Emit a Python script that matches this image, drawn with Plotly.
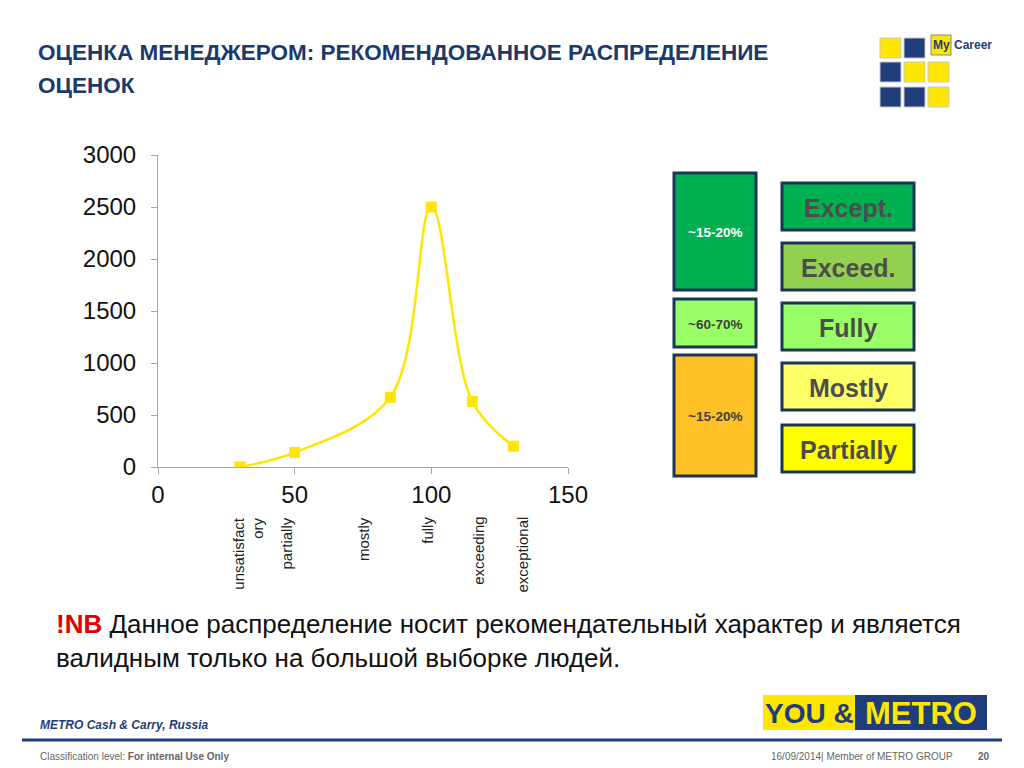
import plotly.graph_objects as go

# --- data -------------------------------------------------------------
scores = [30, 50, 85, 100, 115, 130]
counts = [0, 140, 670, 2500, 630, 200]

rating_labels = ['unsatisfact<br>ory', 'partially', 'mostly', 'fully', 'exceeding', 'exceptional']
rating_label_x = [33, 47, 75, 98.5, 117, 133]

share_labels = ['~15-20%', '~60-70%', '~15-20%']
share_colors = ['#00B050', '#99FF66', '#FFC125']
share_text_colors = ['white', '#404040', '#404040']

level_labels = ['Except.', 'Exceed.', 'Fully', 'Mostly', 'Partially']
level_colors = ['#00B050', '#92D050', '#99FF66', '#FFFF66', '#FFFF00']

W, H = 1024, 768
NAVY = '#1F3D7A'
YELLOW = '#FFE600'
FONT = 'Liberation Sans, Arial, sans-serif'


def px(x):
    return x / W


def py(y):
    return 1 - y / H


def note(x, y, text, size, color, xanchor='center', yanchor='middle', **kw):
    d = dict(x=px(x), y=py(y), xref='paper', yref='paper', text=text, showarrow=False,
             xanchor=xanchor, yanchor=yanchor,
             font=dict(family=kw.pop('family', FONT), size=size, color=color))
    d.update(kw)
    return d


fig = go.Figure()

fig.add_trace(go.Scatter(
    x=scores, y=counts,
    mode='lines+markers',
    line=dict(color=YELLOW, width=2.5, shape='spline', smoothing=1.0),
    marker=dict(symbol='square', size=11, color=YELLOW),
    showlegend=False,
    hoverinfo='x+y'
))

shapes = []
annotations = []

# rotated rating names under the x axis
for lab, x in zip(rating_labels, rating_label_x):
    annotations.append(dict(
        x=x, xref='x', y=py(515), yref='paper',
        text=lab, textangle=-90, showarrow=False,
        xanchor='center', yanchor='top', align='right',
        font=dict(family=FONT, size=15, color='#222222')
    ))

# left column: share boxes
share_boxes = [(173, 290), (299, 347), (355, 476)]
for (y0, y1), lab, col, tcol in zip(share_boxes, share_labels, share_colors, share_text_colors):
    shapes.append(dict(type='rect', xref='paper', yref='paper',
                       x0=px(674), x1=px(756), y0=py(y1), y1=py(y0),
                       fillcolor=col, line=dict(color='#1C3557', width=3)))
    annotations.append(note(715, (y0 + y1) / 2 + 1, '<b>%s</b>' % lab, 13.5, tcol))

# right column: level boxes
level_tops = [183, 243, 303, 363, 425]
for y0, lab, col in zip(level_tops, level_labels, level_colors):
    shapes.append(dict(type='rect', xref='paper', yref='paper',
                       x0=px(782), x1=px(914), y0=py(y0 + 47), y1=py(y0),
                       fillcolor=col, line=dict(color='#1C3557', width=3)))
    annotations.append(note(848, y0 + 25, '<b>%s</b>' % lab, 25, '#4D4D4D'))

# title (two lines, wider spacing than plotly's default)
annotations.append(note(36, 52, '<b>ОЦЕНКА МЕНЕДЖЕРОМ: РЕКОМЕНДОВАННОЕ РАСПРЕДЕЛЕНИЕ</b>',
                        22.5, '#1B3A6B', xanchor='left'))
annotations.append(note(36, 85, '<b>ОЦЕНОК</b>', 22.5, '#1B3A6B', xanchor='left'))

# MyCareer logo
logo_cells = [
    (880, 38, YELLOW), (904, 38, NAVY),
    (880, 62, NAVY), (904, 62, YELLOW), (928, 62, YELLOW),
    (880, 87, NAVY), (904, 87, NAVY), (928, 87, YELLOW),
]
for x0, y0, col in logo_cells:
    shapes.append(dict(type='rect', xref='paper', yref='paper',
                       x0=px(x0), x1=px(x0 + 21), y0=py(y0 + 20), y1=py(y0),
                       fillcolor=col, line=dict(color='#C8C8C8', width=1)))
shapes.append(dict(type='rect', xref='paper', yref='paper',
                   x0=px(931), x1=px(951), y0=py(55), y1=py(35),
                   fillcolor=YELLOW, line=dict(color='#888888', width=1)))
annotations.append(note(941, 45, '<b>My</b>', 12, NAVY))
annotations.append(note(952, 45, '<b>Career</b>', 12, NAVY, xanchor='left'))

# note
annotations.append(note(
    54, 607,
    '<b><span style="color:#E00000">!NB</span></b> Данное распределение носит '
    'рекомендательный характер и является<br>валидным только на большой выборке людей.',
    26, '#111111', xanchor='left', yanchor='top', align='left'))

# YOU & METRO logo
shapes.append(dict(type='rect', xref='paper', yref='paper',
                   x0=px(763), x1=px(855), y0=py(730), y1=py(695),
                   fillcolor=YELLOW, line=dict(width=0)))
shapes.append(dict(type='rect', xref='paper', yref='paper',
                   x0=px(855), x1=px(987), y0=py(730), y1=py(695),
                   fillcolor=NAVY, line=dict(width=0)))
annotations.append(note(809, 713, '<b>YOU &amp;</b>', 28, NAVY,
                        family='Liberation Sans Narrow, ' + FONT))
annotations.append(note(921, 713, '<b>METRO</b>', 31, YELLOW,
                        family='Liberation Sans Narrow, ' + FONT))

# footer
annotations.append(note(38, 725, '<b><i>METRO Cash &amp; Carry, Russia</i></b>', 12, NAVY,
                        xanchor='left'))
shapes.append(dict(type='line', xref='paper', yref='paper',
                   x0=px(22), x1=px(1002), y0=py(740), y1=py(740),
                   line=dict(color=NAVY, width=3)))
annotations.append(note(38, 756, 'Classification level: <b>For internal Use Only</b>', 10,
                        '#666666', xanchor='left'))
annotations.append(note(955, 756, '16/09/2014| Member of METRO GROUP', 10, '#666666',
                        xanchor='right'))
annotations.append(note(984, 756, '<b>20</b>', 10, '#666666'))

fig.update_layout(
    width=W, height=H,
    margin=dict(l=0, r=0, t=0, b=0, autoexpand=False),
    paper_bgcolor='white', plot_bgcolor='white',
    shapes=shapes, annotations=annotations,
    xaxis=dict(domain=[px(158), px(568)], range=[0, 150], dtick=50, automargin=False,
               showgrid=False, zeroline=False, showline=True, linecolor='#A6A6A6', linewidth=1,
               ticks='outside', ticklen=6, tickcolor='#A6A6A6',
               tickfont=dict(family=FONT, size=24, color='#111111')),
    yaxis=dict(domain=[py(467), py(155)], range=[0, 3000], dtick=500, automargin=False,
               showgrid=False, zeroline=False, showline=True, linecolor='#A6A6A6', linewidth=1,
               ticks='outside', ticklen=6, tickcolor='#A6A6A6', ticklabelstandoff=10,
               tickfont=dict(family=FONT, size=24, color='#111111')),
)

# the page's default body margin would shift the whole slide by 8px
fig.write_html("out.html", config={'displayModeBar': False},
               post_script="document.body.style.margin='0';")
